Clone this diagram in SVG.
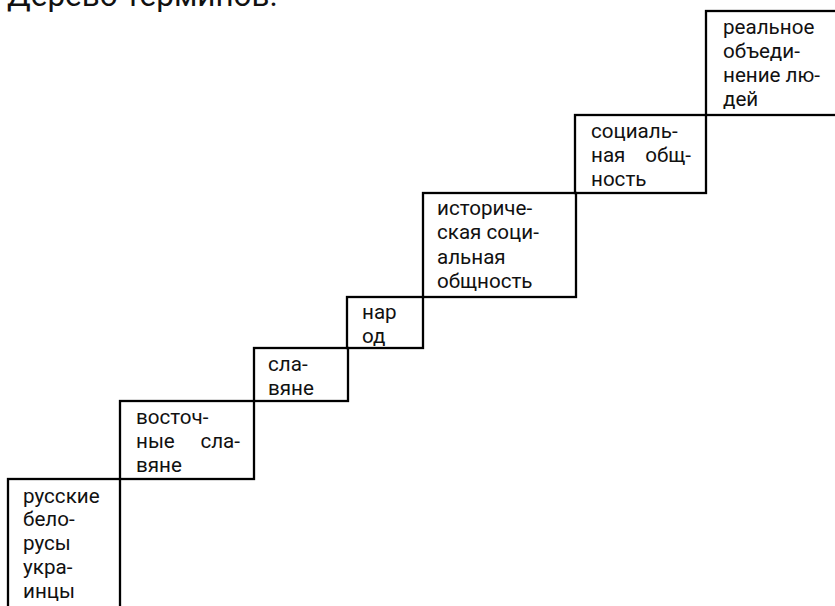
<svg xmlns="http://www.w3.org/2000/svg" width="835" height="606" viewBox="0 0 835 606">
<style>
.box{fill:none;stroke:#000;stroke-width:2.3}
.t{font-family:Roboto,"Liberation Sans",sans-serif;font-size:20.6px;fill:#111}
.title{font-family:Roboto,"Liberation Sans",sans-serif;font-size:31.5px;fill:#111}
</style>
<rect width="835" height="606" fill="#fff"/>
<text class="title" x="7" y="6">Дерево терминов.</text>
<g id="n1">
<rect class="box" x="706" y="11" width="140" height="104"/>
<text class="t"><tspan x="723" y="33.5">реальное</tspan><tspan x="723" y="57.8">объеди-</tspan><tspan x="723" y="82.1">нение лю-</tspan><tspan x="723" y="106.4">дей</tspan></text>
</g>
<g id="n2">
<rect class="box" x="575" y="115" width="131" height="78"/>
<text class="t"><tspan x="591" y="137.5">социаль-</tspan><tspan x="591" y="161.8">ная</tspan><tspan x="691" y="161.8" text-anchor="end">общ-</tspan><tspan x="591" y="186.1">ность</tspan></text>
</g>
<g id="n3">
<rect class="box" x="423" y="193" width="153" height="104"/>
<text class="t"><tspan x="437" y="215">историче-</tspan><tspan x="437" y="239.3">ская соци-</tspan><tspan x="437" y="263.6">альная</tspan><tspan x="437" y="287.9">общность</tspan></text>
</g>
<g id="n4">
<rect class="box" x="347" y="297" width="76" height="51"/>
<text class="t"><tspan x="362" y="318.5">нар</tspan><tspan x="362" y="342.8">од</tspan></text>
</g>
<g id="n5">
<rect class="box" x="254" y="348" width="94" height="53"/>
<text class="t"><tspan x="268" y="370.5">сла-</tspan><tspan x="268" y="394.8">вяне</tspan></text>
</g>
<g id="n6">
<rect class="box" x="120" y="401" width="134" height="78"/>
<text class="t"><tspan x="136" y="423.5">восточ-</tspan><tspan x="136" y="447.8">ные</tspan><tspan x="240" y="447.8" text-anchor="end">сла-</tspan><tspan x="136" y="472.1">вяне</tspan></text>
</g>
<g id="n7">
<rect class="box" x="8" y="479" width="112" height="140"/>
<text class="t"><tspan x="23" y="502.5">русские</tspan><tspan x="23" y="526.3">бело-</tspan><tspan x="23" y="550.1">русы</tspan><tspan x="23" y="573.9">укра-</tspan><tspan x="23" y="597.7">инцы</tspan></text>
</g>
</svg>
